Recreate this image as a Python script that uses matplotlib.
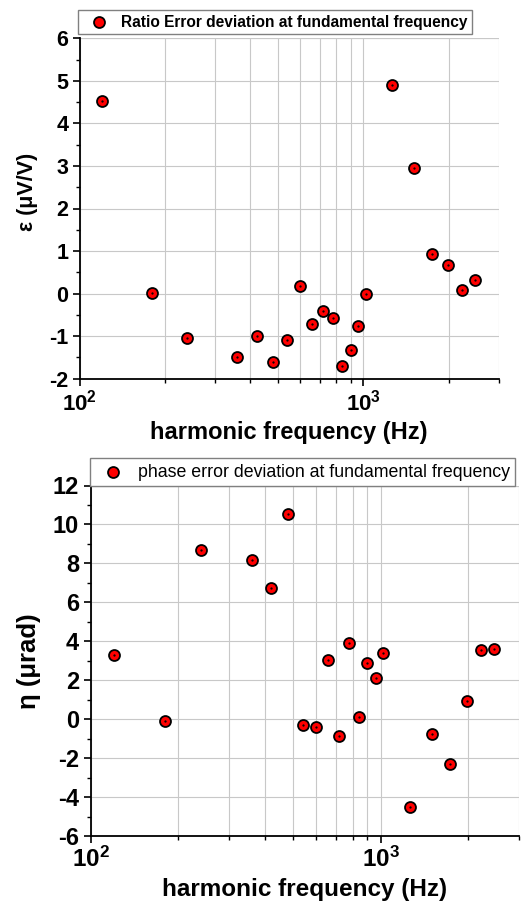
import matplotlib
matplotlib.use("Agg")
import matplotlib.pyplot as plt
from matplotlib.ticker import NullFormatter, MultipleLocator, FixedLocator

plt.rcParams['font.family'] = ['Liberation Sans', 'DejaVu Sans']
plt.rcParams['font.weight'] = 'bold'
plt.rcParams['axes.unicode_minus'] = False
plt.rcParams['mathtext.fontset'] = 'custom'
plt.rcParams['mathtext.rm'] = 'Liberation Sans:bold'
plt.rcParams['mathtext.bf'] = 'Liberation Sans:bold'
plt.rcParams['mathtext.it'] = 'Liberation Sans:bold'

# harmonic frequencies (Hz)
freq = [120, 180, 240, 360, 420, 480, 540, 600, 660, 720, 780, 840, 900, 960,
        1020, 1260, 1500, 1740, 1980, 2220, 2460]
# ratio error deviation (uV/V)
ratio_err = [4.52, 0.01, -1.05, -1.48, -0.99, -1.60, -1.10, 0.19, -0.72, -0.41,
             -0.58, -1.71, -1.32, -0.75, -0.02, 4.91, 2.95, 0.92, 0.67, 0.09, 0.31]
# phase error deviation (urad)
phase_err = [3.28, -0.10, 8.70, 8.15, 6.75, 10.55, -0.30, -0.38, 3.02, -0.89,
             3.93, 0.12, 2.90, 2.12, 3.42, -4.52, -0.75, -2.28, 0.95, 3.55, 3.62]

top_legend = "Ratio Error deviation at fundamental frequency"
bot_legend = "phase error deviation at fundamental frequency"
xlabel = "harmonic frequency (Hz)"
top_ylabel = "ε (μV/V)"
bot_ylabel = "η (μrad)"
xtick_labels = [r'$10^{2}$', r'$10^{3}$']

W, H = 530, 902
fig = plt.figure(figsize=(W / 100, H / 100), dpi=100)

def px_axes(l, t, r, b):
    return fig.add_axes([l / W, 1 - b / H, (r - l) / W, (b - t) / H])

ax1 = px_axes(79.5, 38.3, 499, 378.7)
ax2 = px_axes(90.7, 485.5, 519, 836)

grid_kw = dict(color='#c8c8c8', linewidth=0.8)

def style(ax, ylim, ymaj, ymin, yfs, xfs, xlfs, ypad):
    ax.set_xscale('log')
    ax.set_xlim(100, 3000)
    ax.set_ylim(*ylim)
    ax.yaxis.set_major_locator(MultipleLocator(ymaj))
    ax.yaxis.set_minor_locator(MultipleLocator(ymin))
    ax.xaxis.set_major_locator(FixedLocator([100, 1000]))
    ax.xaxis.set_minor_locator(FixedLocator([200, 300, 400, 500, 600, 700, 800, 900, 2000, 3000]))
    ax.xaxis.set_minor_formatter(NullFormatter())
    ax.set_xticklabels(xtick_labels)
    for s in ['top', 'right']:
        ax.spines[s].set_visible(False)
    for s in ['left', 'bottom']:
        ax.spines[s].set_linewidth(1.3)
        ax.spines[s].set_color('black')
    ax.grid(True, which='major', axis='y', **grid_kw)
    ax.grid(True, which='both', axis='x', **grid_kw)
    ax.axhline(ylim[1], **grid_kw)
    ax.tick_params(axis='both', which='major', direction='out', length=5, width=1.2,
                   colors='black')
    ax.tick_params(axis='both', which='minor', direction='out', length=3, width=1.0)
    ax.tick_params(axis='y', labelsize=yfs, pad=ypad)
    ax.tick_params(axis='x', labelsize=xfs, pad=3)
    ax.set_xlabel(xlabel, fontsize=xlfs, fontweight='bold')
    ax.set_axisbelow(True)

style(ax1, (-2, 6), 1, 0.5, 15.5, 16, 17, 3)
style(ax2, (-6, 12), 2, 1, 17, 17.5, 17.5, 3.5)

mk = dict(marker='o', s=62, facecolor='#ff0000', edgecolor='black', linewidth=1.3, zorder=3)
h1 = ax1.scatter(freq, ratio_err, **mk)
ax1.scatter(freq, ratio_err, marker='.', s=1.5, color='black', zorder=4)
h2 = ax2.scatter(freq, phase_err, **mk)
ax2.scatter(freq, phase_err, marker='.', s=1.5, color='black', zorder=4)

ax1.set_ylabel(top_ylabel, fontsize=15.5, fontweight='bold')
ax1.yaxis.set_label_coords(-0.099, 0.55)
ax2.set_ylabel(bot_ylabel, fontsize=18.5, fontweight='bold')
ax2.yaxis.set_label_coords(-0.116, 0.5)

ax1.xaxis.set_label_coords(0.5, -0.125)
ax2.xaxis.set_label_coords(0.5, -0.12)

leg_kw = dict(loc='lower left', borderaxespad=0, fancybox=False, edgecolor='#808080',
              framealpha=1, borderpad=0.3)
l1 = ax1.legend([h1], [top_legend], bbox_to_anchor=(-0.004, 1.012),
                prop={'size': 11.2, 'weight': 'bold'}, handlelength=2.1,
                handletextpad=0.37, **leg_kw)
l2 = ax2.legend([h2], [bot_legend], bbox_to_anchor=(-0.002, 0.999),
                prop={'size': 12.75, 'weight': 'normal'}, handlelength=2.0,
                handletextpad=0.41, **leg_kw)
for l in (l1, l2):
    l.get_frame().set_linewidth(1.0)

fig.savefig('out.png', dpi=100)
